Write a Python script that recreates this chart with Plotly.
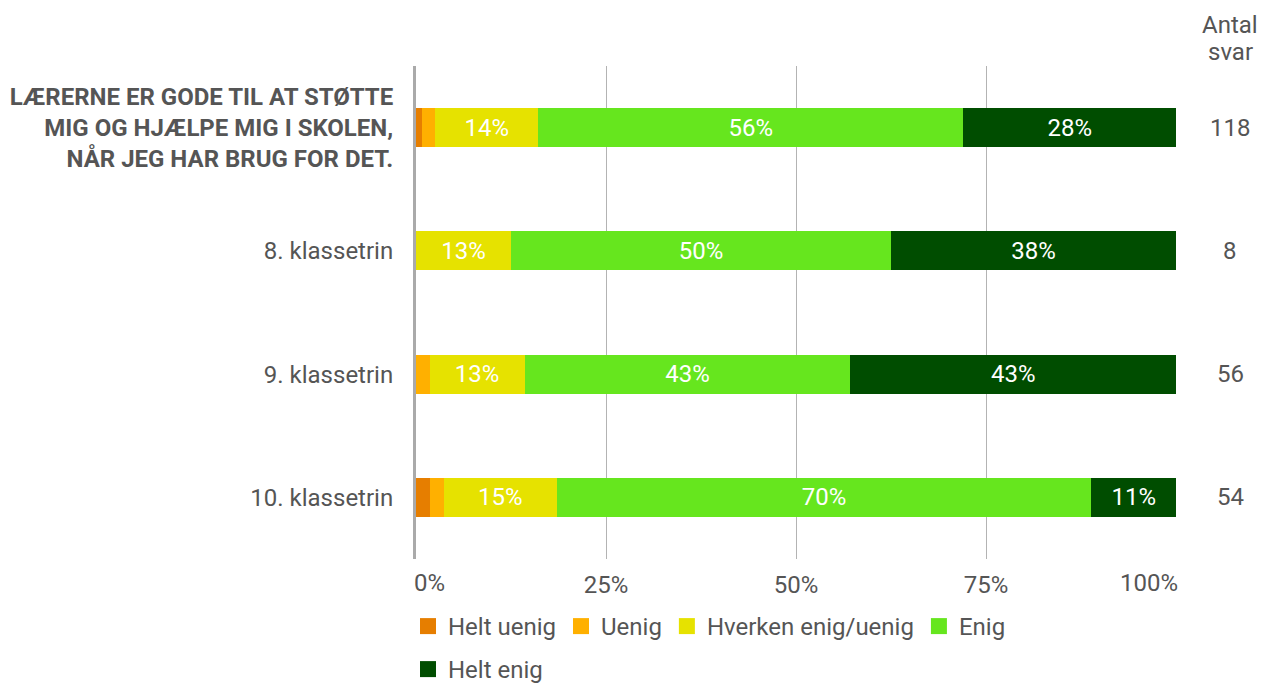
import math
import plotly.graph_objects as go

categories = [
    "<b>LÆRERNE ER GODE TIL AT STØTTE<br>MIG OG HJÆLPE MIG I SKOLEN,<br>NÅR JEG HAR BRUG FOR DET.</b>",
    "8. klassetrin",
    "9. klassetrin",
    "10. klassetrin",
]
series_names = ["Helt uenig", "Uenig", "Hverken enig/uenig", "Enig", "Helt enig"]
colors = ["#E67E00", "#FFB000", "#E6E200", "#66E61E", "#004D00"]

helt_uenig = [0.85, 0.0, 0.0, 1.85]
uenig = [1.69, 0.0, 1.79, 1.85]
hverken = [13.56, 12.5, 12.5, 14.81]
enig = [55.93, 50.0, 42.86, 70.37]
helt_enig = [27.97, 37.5, 42.86, 11.11]
antal_svar = [118, 8, 56, 54]
tick_vals = [0, 25, 50, 75, 100]
tick_text = ["0%", "25%", "50%", "75%", "100%"]

values = [helt_uenig, uenig, hverken, enig, helt_enig]

FONT = "Roboto"
GREY = "#555555"

W, H = 1262, 684
ML, MR, MT, MB = 416, 86, 66, 125
PW, PH = W - ML - MR, H - MT - MB

fig = go.Figure()
for name, col, vals in zip(series_names, colors, values):
    txt = [f"{int(math.floor(v + 0.5))}%" if v >= 5 else "" for v in vals]
    fig.add_trace(go.Bar(
        y=categories, x=vals, name=name, orientation="h",
        marker=dict(color=col, line=dict(width=0)),
        text=txt, textposition="inside", insidetextanchor="middle",
        textfont=dict(color="white", size=24, family=FONT),
        hoverinfo="skip", showlegend=False,
    ))

# legend entries (bigger square symbols), split across two legend rows
for i, (name, col) in enumerate(zip(series_names, colors)):
    fig.add_trace(go.Scatter(
        x=[None], y=[None], mode="markers", name=name,
        marker=dict(symbol="square", size=16, color=col),
        legend="legend" if i < 4 else "legend2",
        hoverinfo="skip",
    ))

xc = (1230 - ML) / PW
for cat, n in zip(categories, antal_svar):
    fig.add_annotation(x=xc, xref="paper", y=cat, yref="y", text=str(n),
                       showarrow=False, xanchor="center",
                       font=dict(size=24, family=FONT, color=GREY))
for txt, ypix in (("Antal", 25), ("svar", 52)):
    fig.add_annotation(x=xc, xref="paper", y=(H - MB - ypix) / PH, yref="paper",
                       text=txt, showarrow=False, xanchor="center",
                       yanchor="middle",
                       font=dict(size=24, family=FONT, color=GREY))

# first and last x tick labels are aligned inward (like the reference)
shown_ticktext = [t if 0 < i < len(tick_text) - 1 else "" for i, t in enumerate(tick_text)]
tick_label_y = (H - MB - 583) / PH
for val, lab, anchor, shift in ((tick_vals[0], tick_text[0], "left", -4),
                                (tick_vals[-1], tick_text[-1], "right", 4)):
    fig.add_annotation(x=val, xref="x", y=tick_label_y, yref="paper",
                       text=lab, showarrow=False, xanchor=anchor,
                       yanchor="middle", xshift=shift,
                       font=dict(size=24, family=FONT, color=GREY))

legend_common = dict(orientation="h", xanchor="left", yanchor="top",
                     yref="container",
                     font=dict(size=24, family=FONT, color=GREY),
                     traceorder="normal", itemclick=False,
                     bgcolor="rgba(0,0,0,0)")

fig.update_layout(
    barmode="stack",
    width=W, height=H,
    margin=dict(l=ML, r=MR, t=MT, b=MB),
    plot_bgcolor="white", paper_bgcolor="white",
    bargap=0.683,
    font=dict(family=FONT, size=24, color=GREY),
    legend=dict(x=-8 / PW, y=1 - 604 / H, **legend_common),
    legend2=dict(x=-8 / PW, y=1 - 647 / H, **legend_common),
    xaxis=dict(range=[0, 100], tickvals=tick_vals, ticktext=shown_ticktext,
               showgrid=True, gridcolor="#b3b3b3", gridwidth=1,
               zeroline=False, showline=False, ticks="", automargin=False,
               tickfont=dict(size=24, color=GREY), ticklabelstandoff=9),
    yaxis=dict(autorange="reversed", showgrid=False, ticks="",
               showline=True, linecolor="#aaaaaa", linewidth=3,
               automargin=False,
               tickfont=dict(size=24, color=GREY), ticklabelstandoff=15),
)

fig.write_html(
    "out.html",
    config={"displayModeBar": False},
    post_script="document.body.style.margin='0';document.body.style.overflow='hidden';",
)
